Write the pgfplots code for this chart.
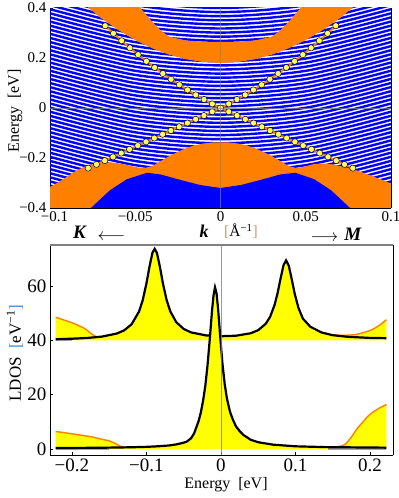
\documentclass[border=0pt]{standalone}
\usepackage{fontspec}
\setmainfont{Liberation Serif}
\usepackage{pgfplots}
\usepackage{pgfplotstable}
\pgfplotsset{compat=1.18}
\definecolor{mblue}{rgb}{0,0,1}
\definecolor{morange}{rgb}{1,0.5,0}
\definecolor{myellow}{rgb}{1,1,0}
\definecolor{dotyellow}{rgb}{1,1,0.35}
\definecolor{brblue}{rgb}{0.25,0.55,0.85}
\definecolor{brtan}{rgb}{0.78,0.6,0.42}

\pgfplotsset{
  bl/.style={mblue, line width=2.4bp, smooth},
  tfont/.style={font=\fontsize{15bp}{18bp}\selectfont},
  bfont/.style={font=\fontsize{19bp}{22bp}\selectfont},
}

% LDOS, lower set (surface part, black)
\pgfplotstableread{
x y
-0.222 0.35
-0.2 0.4
-0.17 0.45
-0.14 0.55
-0.12 0.65
-0.1 0.8
-0.085 1.0
-0.07 1.3
-0.06 1.7
-0.052 2.2
-0.046 2.7
-0.04 4.0
-0.036 5.8
-0.0328 8.2
-0.03 10.3
-0.027 13.5
-0.024 17.8
-0.021 23.3
-0.018 31.0
-0.015 40.5
-0.012 51.0
-0.010 56.5
-0.008 59.5
-0.006 57.4
-0.004 52.0
-0.001 41.3
0.002 31.4
0.005 23.9
0.008 18.6
0.012 13.8
0.016 10.8
0.02 8.4
0.025 6.6
0.03 5.2
0.04 3.4
0.05 2.5
0.07 1.6
0.1 1.0
0.14 0.7
0.18 0.6
0.222 0.5
}\lowblack

% lower set, total (yellow area)
\pgfplotstableread{
x y
-0.222 0
-0.222 6.45
-0.21 6.0
-0.19 5.2
-0.173 4.45
-0.16 3.6
-0.15 3.0
-0.143 2.2
-0.137 1.3
-0.132 0.7
-0.12 0.65
-0.1 0.8
-0.085 1.0
-0.07 1.3
-0.06 1.7
-0.052 2.2
-0.046 2.7
-0.04 4.0
-0.036 5.8
-0.0328 8.2
-0.03 10.3
-0.027 13.5
-0.024 17.8
-0.021 23.3
-0.018 31.0
-0.015 40.5
-0.012 51.0
-0.010 56.5
-0.008 59.5
-0.006 57.4
-0.004 52.0
-0.001 41.3
0.002 31.4
0.005 23.9
0.008 18.6
0.012 13.8
0.016 10.8
0.02 8.4
0.025 6.6
0.03 5.2
0.04 3.4
0.05 2.5
0.07 1.6
0.1 1.0
0.14 0.7
0.155 0.8
0.163 1.2
0.168 2.0
0.174 4.0
0.183 7.6
0.19 9.8
0.197 12.0
0.205 13.8
0.214 15.3
0.222 16.4
0.222 0
}\lowfill

\pgfplotstableread{
x y
-0.222 6.45
-0.21 6.0
-0.19 5.2
-0.173 4.45
-0.16 3.6
-0.15 3.0
-0.143 2.2
-0.137 1.3
-0.132 0.7
-0.125 0.62
}\lowleft

\pgfplotstableread{
x y
0.14 0.7
0.155 0.8
0.163 1.2
0.168 2.0
0.174 4.0
0.183 7.6
0.19 9.8
0.197 12.0
0.205 13.8
0.214 15.3
0.222 16.4
}\lowright

% LDOS, upper set (shifted by 40)
\pgfplotstableread{
x y
-0.222 40.42
-0.2 40.60
-0.18 40.87
-0.16 41.37
-0.14 42.50
-0.13 43.68
-0.12 45.90
-0.11 50.59
-0.105 54.83
-0.1 61.02
-0.096 67.07
-0.092 72.22
-0.089 73.67
-0.086 72.24
-0.082 67.09
-0.078 61.06
-0.073 54.88
-0.068 50.65
-0.06 46.68
-0.05 44.18
-0.04 42.91
-0.02 41.81
0 41.52
0.02 41.70
0.04 42.62
0.05 43.75
0.06 46.07
0.066 48.68
0.072 53.06
0.076 57.40
0.08 62.77
0.084 67.71
0.0874 69.43
0.091 67.51
0.095 62.47
0.099 57.12
0.104 51.94
0.11 47.97
0.12 45.0
0.135 42.9
0.15 41.9
0.17 41.3
0.2 40.9
0.222 40.8
}\upblack

\pgfplotstableread{
x y
-0.222 40
-0.222 48.5
-0.2 46.5
-0.185 44.7
-0.18 43.8
-0.174 42.4
-0.167 41.3
-0.16 41.37
-0.14 42.50
-0.13 43.68
-0.12 45.90
-0.11 50.59
-0.105 54.83
-0.1 61.02
-0.096 67.07
-0.092 72.22
-0.089 74.3
-0.086 72.24
-0.082 67.09
-0.078 61.06
-0.073 54.88
-0.068 50.65
-0.06 46.68
-0.05 44.18
-0.04 42.91
-0.02 41.81
0 41.52
0.02 41.70
0.04 42.62
0.05 43.75
0.06 46.07
0.066 48.68
0.072 53.06
0.076 57.40
0.08 62.77
0.084 67.71
0.0874 69.43
0.091 67.51
0.095 62.47
0.099 57.12
0.104 51.94
0.11 47.97
0.12 45.0
0.135 42.9
0.15 41.95
0.165 41.8
0.18 42.1
0.188 42.6
0.2 43.6
0.206 44.4
0.214 45.8
0.222 47.6
0.222 40
}\upfill

\pgfplotstableread{
x y
-0.222 48.5
-0.2 46.5
-0.185 44.7
-0.18 43.8
-0.174 42.4
-0.167 41.3
-0.16 41.37
}\upleft

\pgfplotstableread{
x y
0.15 41.95
0.165 41.8
0.18 42.1
0.188 42.6
0.2 43.6
0.206 44.4
0.214 45.8
0.222 47.6
}\upright

\begin{document}
\begin{tikzpicture}
\useasboundingbox (0bp,0bp) rectangle (399bp,498bp);

% ---------------- band structure ----------------
\begin{axis}[
  at={(50bp,290bp)}, anchor=south west,
  scale only axis, width=341bp, height=200bp,
  xmin=-0.1, xmax=0.1, ymin=-0.4, ymax=0.4,
  axis x line*=bottom, axis y line*=left,
  axis line style={line width=0.8bp},
  tick align=inside, major tick length=3bp,
  tick style={black, line width=0.6bp},
  xtick={-0.1,-0.05,0,0.05,0.1},
  xticklabels={\hspace*{9bp}\raisebox{-2bp}{−0.1},−0.05,0,0.05,0.1},
  ytick={-0.4,-0.2,0,0.2,0.4},
  yticklabels={−0.4,−0.2,0,0.2,0.4},
  tick label style={tfont},
  clip mode=individual,
]
\addplot[bl] coordinates {(-0.1,-0.3100)(-0.05,-0.3925)(0,-0.4200)(0.05,-0.3925)(0.1,-0.3100)};
\addplot[bl] coordinates {(-0.1,-0.2936)(-0.05,-0.3761)(0,-0.4036)(0.05,-0.3761)(0.1,-0.2936)};
\addplot[bl] coordinates {(-0.1,-0.2772)(-0.05,-0.3597)(0,-0.3872)(0.05,-0.3597)(0.1,-0.2772)};
\addplot[bl] coordinates {(-0.1,-0.2608)(-0.05,-0.3433)(0,-0.3708)(0.05,-0.3433)(0.1,-0.2608)};
\addplot[bl] coordinates {(-0.1,-0.2444)(-0.05,-0.3269)(0,-0.3544)(0.05,-0.3269)(0.1,-0.2444)};
\addplot[bl] coordinates {(-0.1,-0.2280)(-0.05,-0.3105)(0,-0.3380)(0.05,-0.3105)(0.1,-0.2280)};
\addplot[bl] coordinates {(-0.1,-0.2116)(-0.05,-0.2941)(0,-0.3216)(0.05,-0.2941)(0.1,-0.2116)};
\addplot[bl] coordinates {(-0.1,-0.1952)(-0.05,-0.2777)(0,-0.3052)(0.05,-0.2777)(0.1,-0.1952)};
\addplot[bl] coordinates {(-0.1,-0.1788)(-0.05,-0.2613)(0,-0.2888)(0.05,-0.2613)(0.1,-0.1788)};
\addplot[bl] coordinates {(-0.1,-0.1624)(-0.05,-0.2449)(0,-0.2724)(0.05,-0.2449)(0.1,-0.1624)};
\addplot[bl] coordinates {(-0.1,-0.1460)(-0.05,-0.2285)(0,-0.2560)(0.05,-0.2285)(0.1,-0.1460)};
\addplot[bl] coordinates {(-0.1,-0.1296)(-0.05,-0.2121)(0,-0.2396)(0.05,-0.2121)(0.1,-0.1296)};
\addplot[bl] coordinates {(-0.1,-0.1132)(-0.05,-0.1957)(0,-0.2232)(0.05,-0.1957)(0.1,-0.1132)};
\addplot[bl] coordinates {(-0.1,-0.0968)(-0.05,-0.1793)(0,-0.2068)(0.05,-0.1793)(0.1,-0.0968)};
\addplot[bl] coordinates {(-0.1,-0.0804)(-0.05,-0.1629)(0,-0.1904)(0.05,-0.1629)(0.1,-0.0804)};
\addplot[bl] coordinates {(-0.1,-0.0640)(-0.05,-0.1465)(0,-0.1740)(0.05,-0.1465)(0.1,-0.0640)};
\addplot[bl] coordinates {(-0.1,-0.0476)(-0.05,-0.1301)(0,-0.1576)(0.05,-0.1301)(0.1,-0.0476)};
\addplot[bl] coordinates {(-0.1,-0.0312)(-0.05,-0.1137)(0,-0.1412)(0.05,-0.1137)(0.1,-0.0312)};
\addplot[bl] coordinates {(-0.1,-0.0148)(-0.05,-0.0973)(0,-0.1248)(0.05,-0.0973)(0.1,-0.0148)};
\addplot[bl] coordinates {(-0.1,0.0016)(-0.05,-0.0809)(0,-0.1084)(0.05,-0.0809)(0.1,0.0016)};
\addplot[bl] coordinates {(-0.1,0.0180)(-0.05,-0.0645)(0,-0.0920)(0.05,-0.0645)(0.1,0.0180)};
\addplot[bl] coordinates {(-0.1,0.0344)(-0.05,-0.0481)(0,-0.0756)(0.05,-0.0481)(0.1,0.0344)};
\addplot[bl] coordinates {(-0.1,0.0508)(-0.05,-0.0317)(0,-0.0592)(0.05,-0.0317)(0.1,0.0508)};
\addplot[bl] coordinates {(-0.1,0.0672)(-0.05,-0.0153)(0,-0.0428)(0.05,-0.0153)(0.1,0.0672)};
\addplot[bl] coordinates {(-0.1,0.0836)(-0.05,0.0011)(0,-0.0264)(0.05,0.0011)(0.1,0.0836)};
\addplot[bl] coordinates {(-0.1,0.1000)(-0.05,0.0175)(0,-0.0100)(0.05,0.0175)(0.1,0.1000)};
\addplot[bl] coordinates {(-0.1,0.1164)(-0.05,0.0339)(0,0.0064)(0.05,0.0339)(0.1,0.1164)};
\addplot[bl] coordinates {(-0.1,0.1328)(-0.05,0.0503)(0,0.0228)(0.05,0.0503)(0.1,0.1328)};
\addplot[bl] coordinates {(-0.1,0.1492)(-0.05,0.0667)(0,0.0392)(0.05,0.0667)(0.1,0.1492)};
\addplot[bl] coordinates {(-0.1,0.1656)(-0.05,0.0831)(0,0.0556)(0.05,0.0831)(0.1,0.1656)};
\addplot[bl] coordinates {(-0.1,0.1820)(-0.05,0.0995)(0,0.0720)(0.05,0.0995)(0.1,0.1820)};
\addplot[bl] coordinates {(-0.1,0.1984)(-0.05,0.1159)(0,0.0884)(0.05,0.1159)(0.1,0.1984)};
\addplot[bl] coordinates {(-0.1,0.2148)(-0.05,0.1323)(0,0.1048)(0.05,0.1323)(0.1,0.2148)};
\addplot[bl] coordinates {(-0.1,0.2312)(-0.05,0.1487)(0,0.1212)(0.05,0.1487)(0.1,0.2312)};
\addplot[bl] coordinates {(-0.1,0.2476)(-0.05,0.1651)(0,0.1376)(0.05,0.1651)(0.1,0.2476)};
\addplot[bl] coordinates {(-0.1,0.2640)(-0.05,0.1815)(0,0.1540)(0.05,0.1815)(0.1,0.2640)};
\addplot[bl] coordinates {(-0.1,0.2804)(-0.05,0.1979)(0,0.1704)(0.05,0.1979)(0.1,0.2804)};
\addplot[bl] coordinates {(-0.1,0.2968)(-0.05,0.2143)(0,0.1868)(0.05,0.2143)(0.1,0.2968)};
\addplot[bl] coordinates {(-0.1,0.3132)(-0.05,0.2307)(0,0.2032)(0.05,0.2307)(0.1,0.3132)};
\addplot[bl] coordinates {(-0.1,0.3296)(-0.05,0.2471)(0,0.2196)(0.05,0.2471)(0.1,0.3296)};
\addplot[bl] coordinates {(-0.1,0.3460)(-0.05,0.2635)(0,0.2360)(0.05,0.2635)(0.1,0.3460)};
\addplot[bl] coordinates {(-0.1,0.3624)(-0.05,0.2799)(0,0.2524)(0.05,0.2799)(0.1,0.3624)};
\addplot[bl] coordinates {(-0.1,0.3788)(-0.05,0.2963)(0,0.2688)(0.05,0.2963)(0.1,0.3788)};
\addplot[bl] coordinates {(-0.1,0.3952)(-0.05,0.3127)(0,0.2852)(0.05,0.3127)(0.1,0.3952)};
\addplot[bl] coordinates {(-0.1,0.4116)(-0.05,0.3291)(0,0.3016)(0.05,0.3291)(0.1,0.4116)};
\addplot[bl] coordinates {(-0.1,0.4280)(-0.05,0.3455)(0,0.3180)(0.05,0.3455)(0.1,0.4280)};
\addplot[bl] coordinates {(-0.1,0.4444)(-0.05,0.3619)(0,0.3344)(0.05,0.3619)(0.1,0.4444)};
\addplot[bl] coordinates {(-0.1,0.4608)(-0.05,0.3783)(0,0.3508)(0.05,0.3783)(0.1,0.4608)};
\addplot[bl] coordinates {(-0.1,0.4772)(-0.05,0.3947)(0,0.3672)(0.05,0.3947)(0.1,0.4772)};
\addplot[bl] coordinates {(-0.1,0.4936)(-0.05,0.4111)(0,0.3836)(0.05,0.4111)(0.1,0.4936)};
\addplot[bl] coordinates {(-0.1,0.5100)(-0.05,0.4275)(0,0.4000)(0.05,0.4275)(0.1,0.5100)};

% bulk bands (orange)
\addplot[fill=morange, draw=none] coordinates {
 (-0.085,0.444) (-0.07,0.359) (-0.06,0.312) (-0.05,0.2715) (-0.04,0.2386) (-0.03,0.2129)
 (-0.02,0.1946) (-0.01,0.1837) (0,0.18) (0.01,0.1837) (0.02,0.1946) (0.03,0.2129)
 (0.04,0.2386) (0.05,0.2715) (0.06,0.312) (0.07,0.359) (0.085,0.444)
 (0.06,0.5) (0.047,0.4) (0.04,0.345) (0.035,0.31) (0.03,0.285) (0.02,0.27) (0.01,0.265)
 (0,0.264) (-0.01,0.265) (-0.02,0.27) (-0.03,0.285) (-0.035,0.31) (-0.04,0.345)
 (-0.047,0.4) (-0.06,0.5)};
\addplot[fill=morange, draw=none] coordinates {
 (-0.1,-0.316) (-0.095,-0.296) (-0.09,-0.275) (-0.085,-0.253) (-0.08,-0.235) (-0.075,-0.224)
 (-0.07,-0.218) (-0.065,-0.217) (-0.06,-0.221) (-0.055,-0.228) (-0.05,-0.236) (-0.045,-0.241)
 (-0.04,-0.232) (-0.035,-0.212) (-0.03,-0.192) (-0.025,-0.175) (-0.02,-0.16) (-0.015,-0.149)
 (-0.01,-0.142) (-0.005,-0.138) (0,-0.137) (0.005,-0.138) (0.01,-0.142) (0.015,-0.149)
 (0.02,-0.16) (0.025,-0.175) (0.03,-0.192) (0.035,-0.212) (0.04,-0.232) (0.045,-0.241)
 (0.05,-0.233) (0.055,-0.224) (0.06,-0.222) (0.065,-0.225) (0.07,-0.232) (0.075,-0.24)
 (0.08,-0.25) (0.085,-0.262) (0.09,-0.275) (0.095,-0.288) (0.1,-0.302)
 (0.1,-0.4) (-0.1,-0.4)};
% dense subbands at the bottom
\addplot[fill=mblue, draw=none] coordinates {
 (-0.076,-0.4) (-0.065,-0.33) (-0.055,-0.285) (-0.043,-0.259) (-0.035,-0.266) (-0.025,-0.285)
 (-0.012,-0.308) (0,-0.32) (0.012,-0.308) (0.025,-0.285) (0.035,-0.266) (0.044,-0.259)
 (0.055,-0.285) (0.065,-0.33) (0.076,-0.4)};

% surface states
\addplot[morange, line width=1.8bp] coordinates {
 (-0.06762,0.3290) (-0.06279,0.2984) (-0.05796,0.2690) (-0.05313,0.2406) (-0.0483,0.2133)
 (-0.04347,0.1870) (-0.03864,0.1619) (-0.03381,0.1379) (-0.02898,0.1149) (-0.02415,0.0930)
 (-0.01932,0.0723) (-0.01449,0.0526) (-0.00966,0.0340) (-0.00483,0.0164) (0,0)
 (0.00485,-0.0150) (0.0097,-0.0301) (0.01455,-0.0451) (0.0194,-0.0601) (0.02425,-0.0752)
 (0.0291,-0.0902) (0.03395,-0.1052) (0.0388,-0.1203) (0.04365,-0.1353) (0.0485,-0.1504)
 (0.05335,-0.1654) (0.0582,-0.1804) (0.06305,-0.1955) (0.0679,-0.2105) (0.07275,-0.2255)
 (0.0776,-0.2406)};
\addplot[morange, line width=1.8bp] coordinates {
 (0.06762,0.3290) (0.06279,0.2984) (0.05796,0.2690) (0.05313,0.2406) (0.0483,0.2133)
 (0.04347,0.1870) (0.03864,0.1619) (0.03381,0.1379) (0.02898,0.1149) (0.02415,0.0930)
 (0.01932,0.0723) (0.01449,0.0526) (0.00966,0.0340) (0.00483,0.0164) (0,0)
 (-0.00485,-0.0150) (-0.0097,-0.0301) (-0.01455,-0.0451) (-0.0194,-0.0601) (-0.02425,-0.0752)
 (-0.0291,-0.0902) (-0.03395,-0.1052) (-0.0388,-0.1203) (-0.04365,-0.1353) (-0.0485,-0.1504)
 (-0.05335,-0.1654) (-0.0582,-0.1804) (-0.06305,-0.1955) (-0.0679,-0.2105) (-0.07275,-0.2255)
 (-0.0776,-0.2406)};
\addplot[only marks, mark=*, mark size=3.1bp, mark options={fill=dotyellow, draw=black, line width=0.5bp}] coordinates {
 (-0.06762,0.3290) (-0.06279,0.2984) (-0.05796,0.2690) (-0.05313,0.2406) (-0.0483,0.2133)
 (-0.04347,0.1870) (-0.03864,0.1619) (-0.03381,0.1379) (-0.02898,0.1149) (-0.02415,0.0930)
 (-0.01932,0.0723) (-0.01449,0.0526) (-0.00966,0.0340) (-0.00483,0.0164) (0,0)
 (0.00485,-0.0150) (0.0097,-0.0301) (0.01455,-0.0451) (0.0194,-0.0601) (0.02425,-0.0752)
 (0.0291,-0.0902) (0.03395,-0.1052) (0.0388,-0.1203) (0.04365,-0.1353) (0.0485,-0.1504)
 (0.05335,-0.1654) (0.0582,-0.1804) (0.06305,-0.1955) (0.0679,-0.2105) (0.07275,-0.2255)
 (0.0776,-0.2406)
 (0.06762,0.3290) (0.06279,0.2984) (0.05796,0.2690) (0.05313,0.2406) (0.0483,0.2133)
 (0.04347,0.1870) (0.03864,0.1619) (0.03381,0.1379) (0.02898,0.1149) (0.02415,0.0930)
 (0.01932,0.0723) (0.01449,0.0526) (0.00966,0.0340) (0.00483,0.0164)
 (-0.00485,-0.0150) (-0.0097,-0.0301) (-0.01455,-0.0451) (-0.0194,-0.0601) (-0.02425,-0.0752)
 (-0.0291,-0.0902) (-0.03395,-0.1052) (-0.0388,-0.1203) (-0.04365,-0.1353) (-0.0485,-0.1504)
 (-0.05335,-0.1654) (-0.0582,-0.1804) (-0.06305,-0.1955) (-0.0679,-0.2105) (-0.07275,-0.2255)
 (-0.0776,-0.2406)};

% zero lines
\addplot[gray, opacity=0.7, line width=0.8bp] coordinates {(-0.1,0) (0.1,0)};
\addplot[gray, opacity=0.7, line width=0.8bp] coordinates {(0,-0.4) (0,0.4)};
\draw[black, line width=0.8bp] (rel axis cs:1,0) -- (rel axis cs:1,1);
\end{axis}

% ---------------- LDOS ----------------
\begin{axis}[
  at={(50bp,43bp)}, anchor=south west,
  scale only axis, width=343bp, height=210bp,
  xmin=-0.2295, xmax=0.2309, ymin=-2.2, ymax=75.1,
  axis x line*=bottom, axis y line*=left,
  axis line style={line width=0.8bp},
  tick align=inside, major tick length=3bp,
  tick style={black, line width=0.6bp},
  xtick={-0.2,-0.1,0,0.1,0.2},
  xticklabels={−0.2,−0.1,0,0.1,0.2},
  ytick={0,20,40,60},
  yticklabels={0,20,40,60},
  tick label style={bfont},
  clip mode=individual,
]
% upper set
\addplot[fill=myellow, draw=none] table[x=x, y=y] {\upfill};
\addplot[gray!70, line width=1.5bp] coordinates {(-0.222,40) (-0.2,40)};
\addplot[morange, line width=1.4bp] table[x=x, y=y] {\upleft};
\addplot[morange, line width=1.4bp] table[x=x, y=y] {\upright};
\addplot[black, line width=2.2bp] table[x=x, y=y] {\upblack};
% lower set
\addplot[fill=myellow, draw=none] table[x=x, y=y] {\lowfill};
\addplot[gray!70, line width=1.5bp] coordinates {(-0.222,0) (-0.15,0)};
\addplot[gray!70, line width=1.5bp] coordinates {(0.143,0) (0.222,0)};
\addplot[morange, line width=1.4bp] table[x=x, y=y] {\lowleft};
\addplot[morange, line width=1.4bp] table[x=x, y=y] {\lowright};
\addplot[black, line width=2.2bp] table[x=x, y=y] {\lowblack};
% zero line
\addplot[gray, opacity=0.8, line width=0.7bp] coordinates {(0,-2.2) (0,75.1)};
\draw[black, line width=0.8bp] (rel axis cs:1,0) -- (rel axis cs:1,1);
\draw[gray, line width=2.2bp] (rel axis cs:0,1) -- (rel axis cs:1,1);
\end{axis}

% ---------------- labels ----------------
\node[rotate=90, font=\fontsize{16bp}{19bp}\selectfont] at (15bp,387bp) {Energy\ \ [eV]};
\node[rotate=90, font=\fontsize{17bp}{20bp}\selectfont] at (15bp,145bp)
  {LDOS\ \ \textcolor{brblue}{[}eV\textsuperscript{−1}\textcolor{brblue}{]}};
\node[anchor=base, font=\fontsize{16bp}{19bp}\selectfont] at (226bp,10bp) {Energy\ \ [eV]};
\node[anchor=base, font=\fontsize{19bp}{22bp}\selectfont] at (80bp,259bp) {\textbf{\textit{K}}};
\node[font=\fontsize{18bp}{21bp}\selectfont] at (111.5bp,261bp) {$\longleftarrow$};
\node[anchor=base, font=\fontsize{18bp}{21bp}\selectfont] at (204bp,260bp) {\textbf{\textit{k}}};
\node[anchor=base, font=\fontsize{15.5bp}{18bp}\selectfont] at (241bp,261bp)
  {\textcolor{brtan}{[}Å\textsuperscript{−1}\textcolor{brtan}{]}};
\node[font=\fontsize{18bp}{21bp}\selectfont] at (324.5bp,260bp) {$\longrightarrow$};
\node[anchor=base, font=\fontsize{19bp}{22bp}\selectfont] at (353bp,257bp) {\textbf{\textit{M}}};
\end{tikzpicture}
\end{document}
